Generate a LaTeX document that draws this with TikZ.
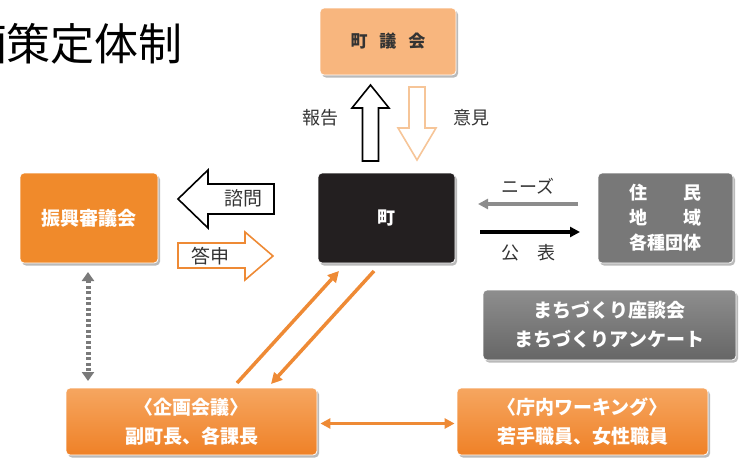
\documentclass[tikz,border=0pt]{standalone}
\usepackage{fontspec}
\setmainfont{Noto Sans CJK JP}
\usetikzlibrary{arrows.meta,shadows}
\definecolor{gikaifill}{HTML}{F8B67E}
\definecolor{shinkofill}{HTML}{F08A2B}
\definecolor{orgtop}{HTML}{F6A660}
\definecolor{orgbot}{HTML}{EF8127}
\definecolor{graytop}{HTML}{8E8E8E}
\definecolor{graybot}{HTML}{666666}
\definecolor{juminfill}{HTML}{787878}
\definecolor{machifill}{HTML}{231F20}
\definecolor{orgline}{HTML}{EE8A35}
\definecolor{lightorg}{HTML}{F6C598}
\definecolor{needsgray}{HTML}{8C8C8C}
\definecolor{dotgray}{HTML}{7A7A7A}
\definecolor{txtgray}{HTML}{333333}
\begin{document}
\begin{tikzpicture}[x=1pt,y=-1pt,
  shbox/.style={draw=white, line width=0.8pt, rounded corners=4pt,
    drop shadow={shadow xshift=2pt,shadow yshift=-2.5pt,fill=black!45,opacity=0.6},
    text=white, align=center, inner sep=0pt,
    font=\bfseries\fontsize{19}{29}\selectfont},
  lbl/.style={text=txtgray, inner sep=0pt, font=\fontsize{18}{20}\selectfont},
  oarrow/.style={draw=orgline, line width=3.5pt, -{Triangle[length=11pt,width=11pt]}},
  blockline/.style={line width=1.6pt, fill=white, line join=miter}
]
\useasboundingbox (0,0) rectangle (740,458);
\clip (0,0) rectangle (740,458);

% title
\node[inner sep=0pt, font=\fontsize{44}{44}\selectfont] (title) at (73,44) {画策定体制};

% boxes
\node[shbox, fill=gikaifill, text=txtgray, minimum width=136pt, minimum height=67pt,
  font=\bfseries\fontsize{17}{20}\selectfont] (gikai) at (388,41.5)
  {町\hspace{12pt}議\hspace{12pt}会};
\node[shbox, fill=machifill, minimum width=137pt, minimum height=90pt,
  font=\bfseries\fontsize{18}{20}\selectfont] (machi) at (386.5,218) {町};
\node[shbox, fill=juminfill, minimum width=135pt, minimum height=90pt,
  font=\bfseries\fontsize{18}{25}\selectfont] (jumin) at (665.5,218)
  {住　　民\\地　　域\\各種団体};
\node[shbox, fill=shinkofill, minimum width=138pt, minimum height=90pt] (shinko) at (89,218) {振興審議会};
\node[shbox, top color=orgtop, bottom color=orgbot, minimum width=251pt, minimum height=67pt] (kikaku) at (191.5,421.5)
  {〈企画会議〉\\副町長、各課長};
\node[shbox, top color=orgtop, bottom color=orgbot, minimum width=251pt, minimum height=67pt] (chonai) at (582.5,421.5)
  {〈庁内ワーキング〉\\若手職員、女性職員};
\node[shbox, top color=graytop, bottom color=graybot, minimum width=253pt, minimum height=70pt] (mzk) at (609.5,325)
  {まちづくり座談会\\まちづくりアンケート};

% block arrows 報告 / 意見
\draw[blockline, draw=black] (362.5,161) -- (362.5,108) -- (352,108) -- (370.5,85) -- (389,108) -- (378.5,108) -- (378.5,161) -- cycle;
\draw[blockline, draw=lightorg] (409,87) -- (425,87) -- (425,128) -- (436,128) -- (417,160) -- (398,128) -- (409,128) -- cycle;
\node[lbl] (houkoku) at (320,118) {報告};
\node[lbl] (iken) at (471,118) {意見};

% block arrows 諮問 / 答申
\draw[blockline, draw=black] (274,184) -- (208,184) -- (208,170) -- (178,199) -- (208,228) -- (208,214) -- (274,214) -- cycle;
\node[lbl, font=\fontsize{19}{20}\selectfont] (shimon) at (243,198) {諮問};
\draw[blockline, draw=orgline] (178,243) -- (245,243) -- (245,232) -- (273,256) -- (245,280) -- (245,268) -- (178,268) -- cycle;
\node[lbl, font=\fontsize{19}{20}\selectfont] (toushin) at (210,256) {答申};

% needs / kouhyou
\coordinate (n1) at (578,204);
\coordinate (n2) at (478,204);
\draw[draw=needsgray, line width=3.2pt, -{Triangle[length=10pt,width=10pt]}] (n1) -- (n2);
\node[lbl] (needs) at (528,186) {ニーズ};
\coordinate (k1) at (480,232);
\coordinate (k2) at (580,232);
\draw[draw=black, line width=3.2pt, -{Triangle[length=10pt,width=10pt]}] (k1) -- (k2);
\node[lbl] (kouhyou) at (528,253) {公　表};

% dotted double arrow
\coordinate (dv1) at (88,272);
\coordinate (dv2) at (88,381);
\draw[draw=dotgray, line width=5pt, dash pattern=on 3pt off 2.5pt,
  {Triangle[length=9pt,width=12pt]}-{Triangle[length=9pt,width=12pt]}] (dv1) -- (dv2);

% diagonal arrows
\coordinate (a1) at (237,383);
\coordinate (a2) at (339,271);
\coordinate (b1) at (374,271);
\coordinate (b2) at (271,384);
\draw[oarrow] (a1) -- (a2);
\draw[oarrow] (b1) -- (b2);

% horizontal double arrow
\draw[draw=orgline, line width=3.2pt,
  {Triangle[length=10pt,width=10pt]}-{Triangle[length=10pt,width=10pt]}] (kikaku.east) ++(3,2) -- ([xshift=-2pt,yshift=-2pt]chonai.west);
\end{tikzpicture}
\end{document}
